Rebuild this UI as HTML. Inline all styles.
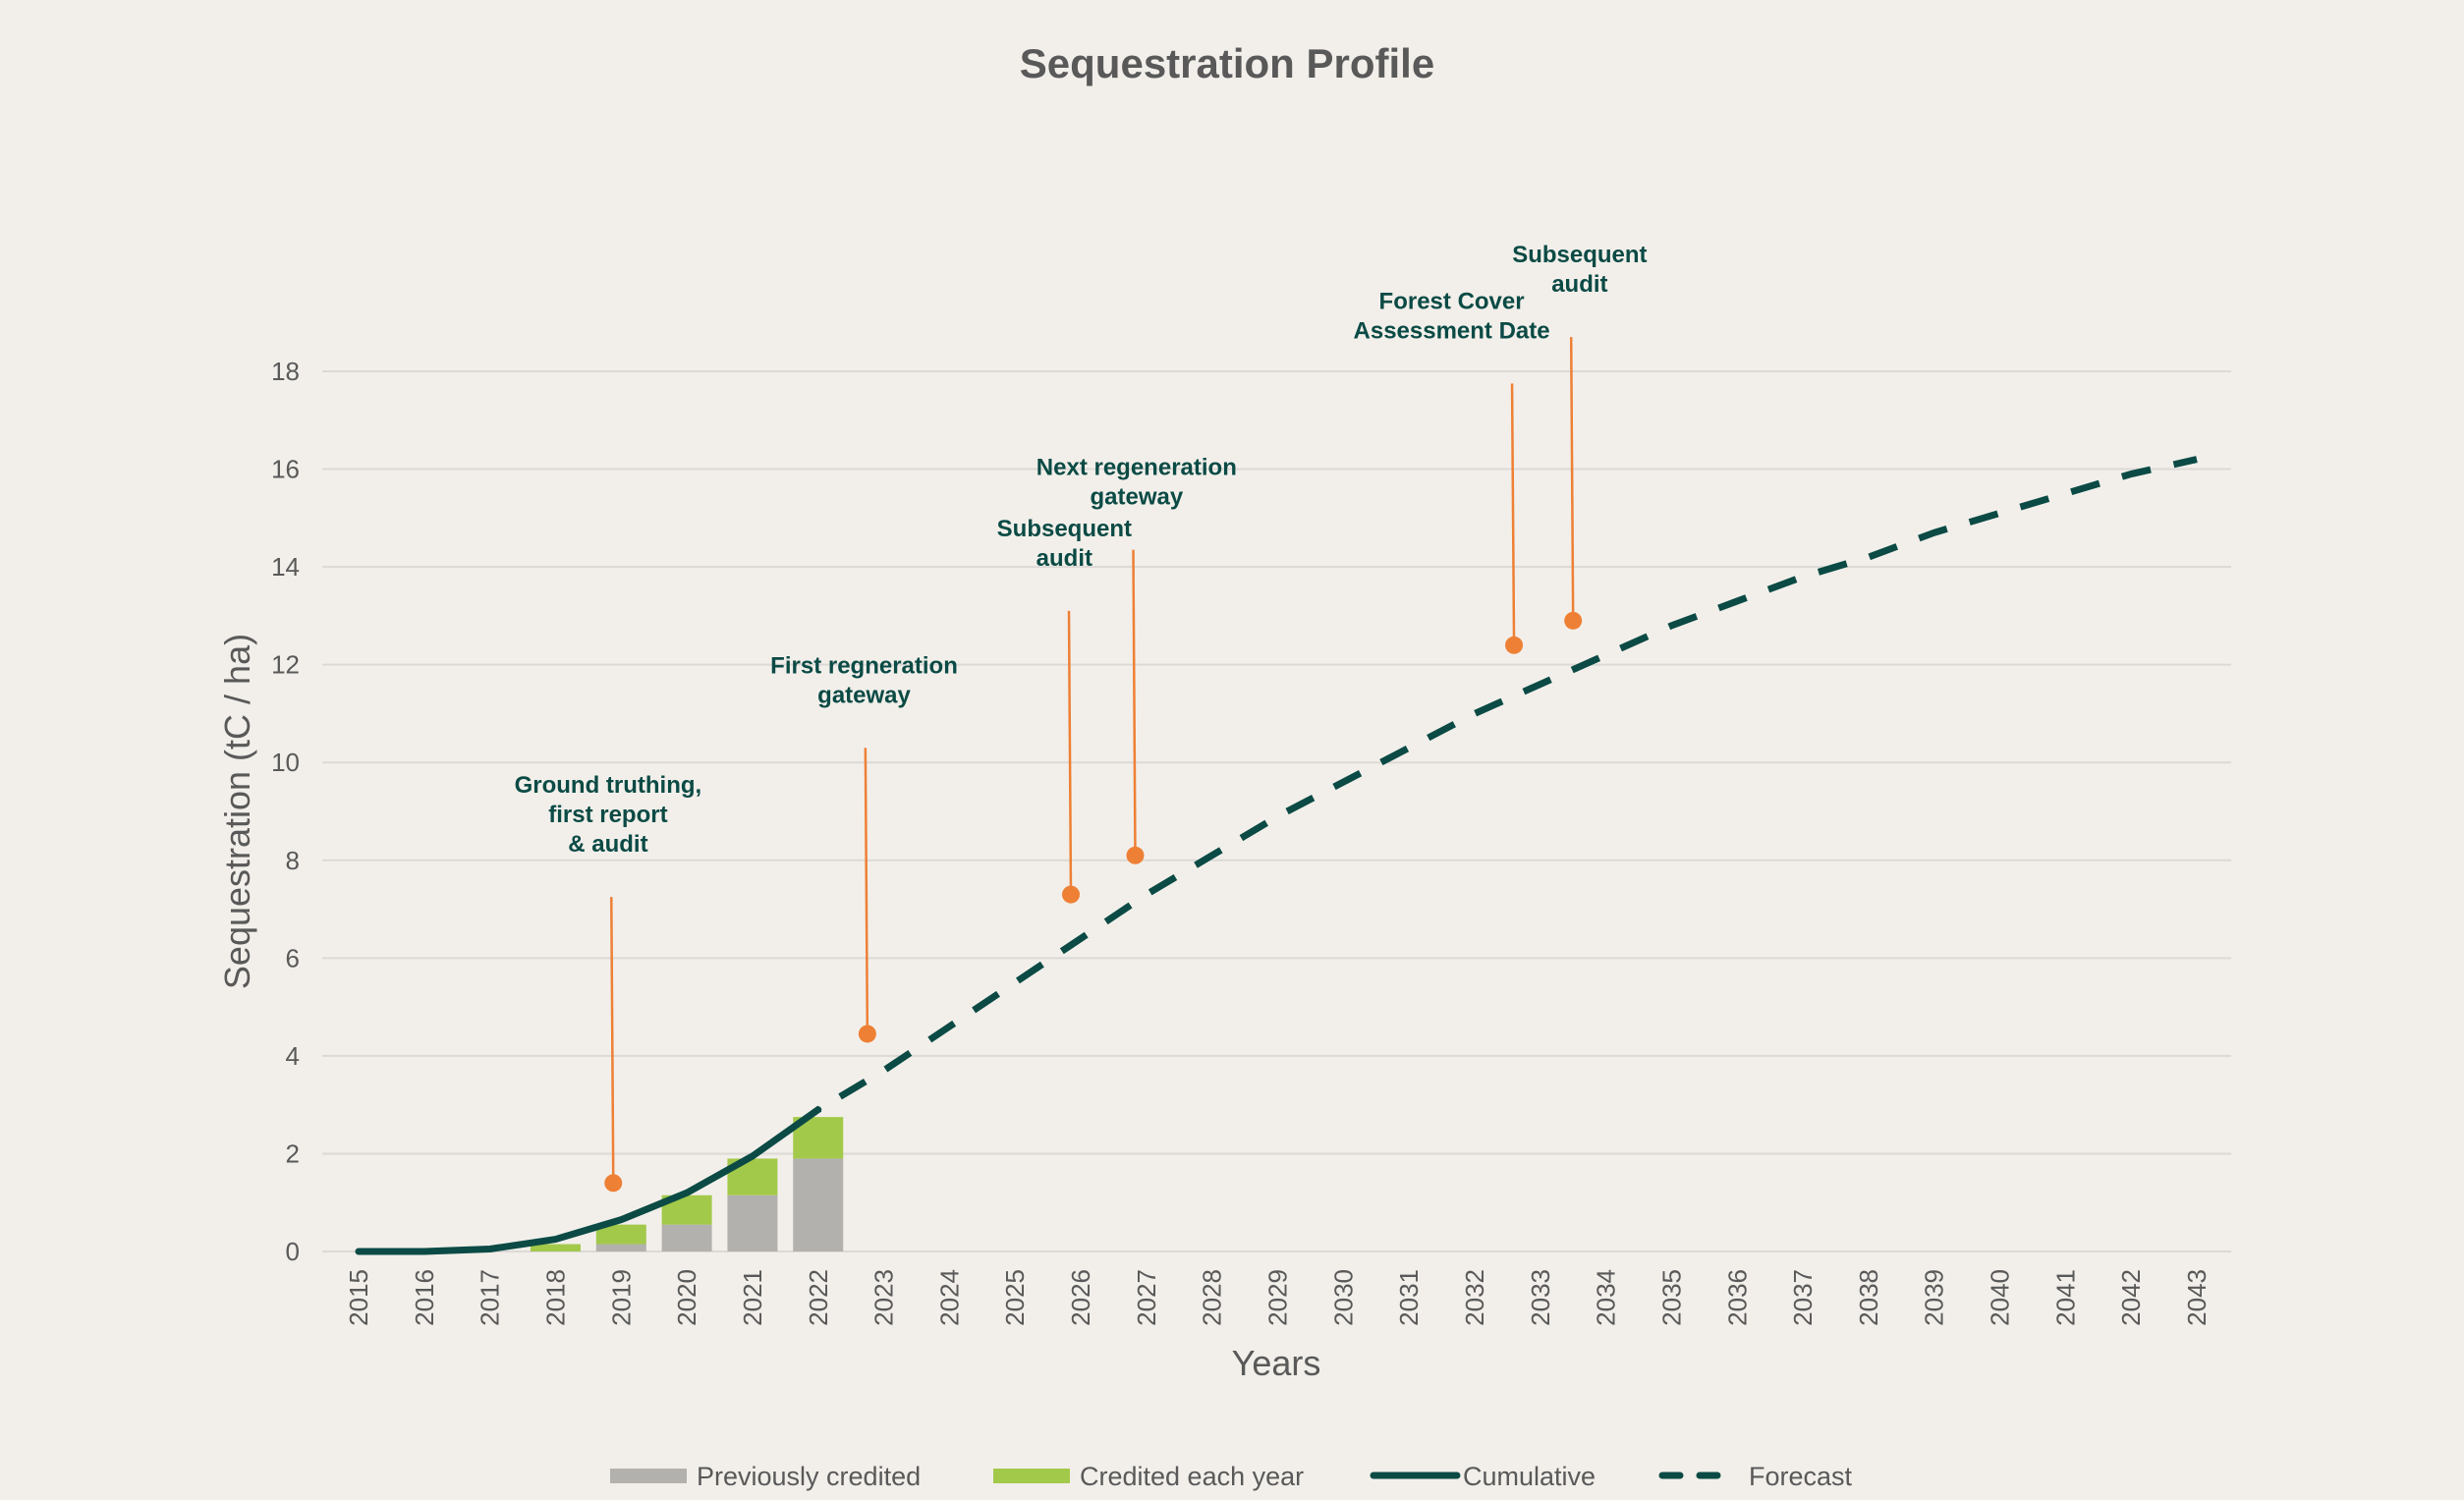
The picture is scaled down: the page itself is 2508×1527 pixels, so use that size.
<!DOCTYPE html>
<html><head><meta charset="utf-8"><style>
html,body{margin:0;padding:0;background:#f2efea;}
svg{display:block;font-family:"Liberation Sans",Arial,sans-serif;}
</style></head><body>
<svg id="chart" width="2508" height="1527" viewBox="0 0 2508 1527">
<rect width="2508" height="1527" fill="#f2efea"/>
<text x="1249" y="79" text-anchor="middle" font-size="42" font-weight="bold" fill="#595959">Sequestration Profile</text>
<g id="grid"></g>
<g id="bars"></g>
<g id="lines"></g>
<g id="annots"></g>
<g id="axes"></g>
<text transform="translate(254,826) rotate(-90)" text-anchor="middle" font-size="36" fill="#595959">Sequestration (tC / ha)</text>
<text x="1299" y="1400" text-anchor="middle" font-size="36" fill="#595959">Years</text>
<g font-size="27" fill="#595959">
<g><rect x="621" y="1495" width="78" height="15" fill="#b3b1ae"/><text x="709" y="1512">Previously credited</text></g>
<g><rect x="1011" y="1495" width="78" height="15" fill="#a3c94a"/><text x="1099" y="1512">Credited each year</text></g>
<g><line x1="1398" y1="1502" x2="1483" y2="1502" stroke="#0b4a45" stroke-width="7" stroke-linecap="round"/><text x="1489" y="1512">Cumulative</text></g>
<g><line x1="1692" y1="1502" x2="1762" y2="1502" stroke="#0b4a45" stroke-width="7" stroke-dasharray="18 20" stroke-linecap="round"/><text x="1780" y="1512">Forecast</text></g>
</g>
</svg>
<script>
const years=[2015,2016,2017,2018,2019,2020,2021,2022,2023,2024,2025,2026,2027,2028,2029,2030,2031,2032,2033,2034,2035,2036,2037,2038,2039,2040,2041,2042,2043];
const yTicks=[0,2,4,6,8,10,12,14,16,18];
const barYears=[2018,2019,2020,2021,2022];
const previouslyCredited=[0,0.15,0.55,1.15,1.9];
const creditedEachYear=[0.15,0.4,0.6,0.75,0.85];
const cumYears=[2015,2016,2017,2018,2019,2020,2021,2022];
const cumulative=[0,0,0.05,0.25,0.65,1.2,1.95,2.9];
const fcYears=[2022,2023,2024,2025,2026,2027,2028,2029,2030,2031,2032,2033,2034,2035,2036,2037,2038,2039,2040,2041,2042,2043];
const forecast=[2.9,3.7,4.6,5.5,6.4,7.3,8.1,8.9,9.6,10.3,11.0,11.6,12.2,12.8,13.3,13.8,14.2,14.7,15.1,15.5,15.9,16.2];
const annotX=[2018.88,2022.75,2025.85,2026.83,2032.6,2033.5];
const annotY=[1.4,4.45,7.3,8.1,12.4,12.9];
const annotTopY=[7.25,10.3,13.1,14.35,17.75,18.7];
const annotLabels=[["Ground truthing,","first report","& audit"],["First regneration","gateway"],["Subsequent","audit"],["Next regeneration","gateway"],["Forest Cover","Assessment Date"],["Subsequent","audit"]];
const annotLabelX=[2018.8,2022.7,2025.75,2026.85,2031.65,2033.6];

const NS="http://www.w3.org/2000/svg";
const X0=365,DX=(2236-365)/28,Y0=1274,DY=(1274-378)/18;
const xs=v=>X0+(v-2015)*DX, ys=v=>Y0-v*DY;
function mk(tag,attrs,parent){const e=document.createElementNS(NS,tag);for(const k in attrs)e.setAttribute(k,attrs[k]);parent.appendChild(e);return e;}
const grid=document.getElementById('grid'),axes=document.getElementById('axes'),bars=document.getElementById('bars'),lines=document.getElementById('lines'),an=document.getElementById('annots');
yTicks.forEach(t=>{
 const l=mk('line',{x1:328,x2:2271,y1:ys(t),y2:ys(t),stroke:'#dcd9d6','stroke-width':2},grid);
 
 
 const tx=mk('text',{x:305,y:ys(t)+9,'text-anchor':'end','font-size':26,fill:'#595959'},axes);
 tx.textContent=t;
 
 
});
years.forEach(y=>{
 const tx=mk('text',{transform:`translate(${xs(y)+9},1292) rotate(-90)`,'text-anchor':'end','font-size':26,fill:'#595959'},axes);
 tx.textContent=y;
 
 
});
const BW=51;
barYears.forEach((y,i)=>{
 const p=previouslyCredited[i],c=creditedEachYear[i];
 const r1=mk('rect',{x:xs(y)-BW/2,y:ys(p),width:BW,height:ys(0)-ys(p),fill:'#b3b1ae'},bars);
 
 
 const r2=mk('rect',{x:xs(y)-BW/2,y:ys(p+c),width:BW,height:ys(p)-ys(p+c),fill:'#a3c94a'},bars);
 
 
});
const cl=mk('polyline',{points:cumYears.map((y,i)=>xs(y)+','+ys(cumulative[i])).join(' '),fill:'none',stroke:'#0b4a45','stroke-width':7,'stroke-linecap':'round','stroke-linejoin':'round'},lines);


const fl=mk('polyline',{points:fcYears.map((y,i)=>xs(y)+','+ys(forecast[i])).join(' '),fill:'none',stroke:'#0b4a45','stroke-width':7,'stroke-dasharray':'30 24','stroke-dashoffset':'-26'},lines);


annotX.forEach((x,i)=>{
 const ln=mk('line',{x1:xs(annotLabelX[i]>x?x-0.03:x-0.03),y1:ys(annotTopY[i]),x2:xs(x),y2:ys(annotY[i]),stroke:'#ee8035','stroke-width':2.5},an);
 
 
 const c=mk('circle',{cx:xs(x),cy:ys(annotY[i]),r:9,fill:'#ee8035'},an);
 
 
 const labs=annotLabels[i];
 const baseY=ys(annotTopY[i])-28-(labs.length-1)*30;
 labs.forEach((s,j)=>{
  const t=mk('text',{x:xs(annotLabelX[i]),y:baseY+j*30-18,'text-anchor':'middle','font-size':24,'font-weight':'bold',fill:'#0b4a45'},an);
  t.textContent=s;
  
  
 });
});
</script>
</body></html>
